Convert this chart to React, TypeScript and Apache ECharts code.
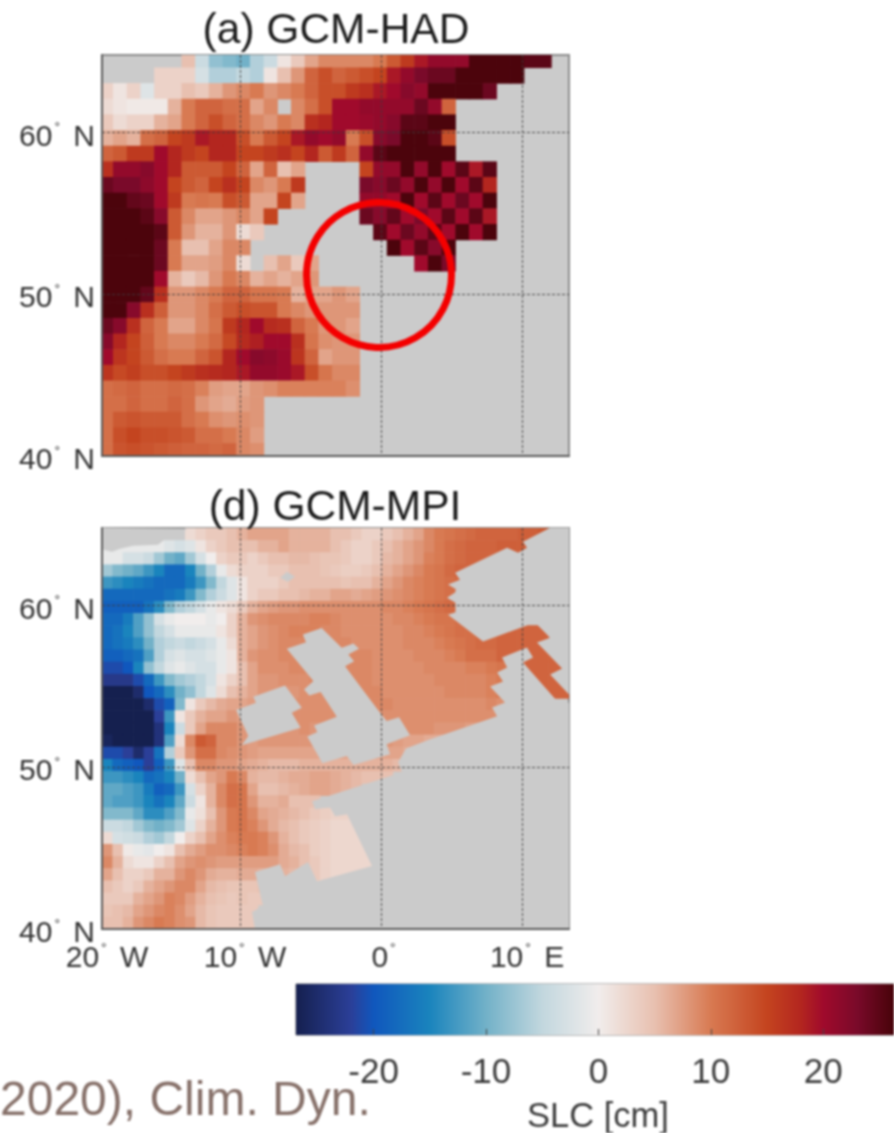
import React, { useEffect, useRef } from "react";
import * as echarts from "echarts";

const n = null;
const FONT = "Liberation Sans";

// colour scale (from the colour bar)
const scaleValues = [-26.9, -22, -20, -15, -10, -5, 0, 5, 10, 15, 18, 20, 23, 26.3];
const scaleColors = ["#15204f", "#2b3f98", "#1057bd", "#1a84bd", "#72b1c8", "#c2d7de", "#f1edec", "#e8c0b0", "#d87a52", "#c4441f", "#b3261f", "#a00a2c", "#7a0a2a", "#470309"];
const colorbarTicks = [-20, -10, 0, 10, 20];

// panel (a): rows north to south, columns west to east
const hadRows: (number | null)[][] = [
  [n,n,n,n,n,n,5,-4,-8,-9,-10,-6,-4,1,4,7,9,9,9,9,10,13,16,19,21,21,21,26,26,26,26,25,25],
  [n,n,n,n,3,3,3,-3,-6,-6,-5,-6,1,5,8,12,14,12,13,14,15,19,21,23,24,24,26,26,26,26,26],
  [3,1,3,-2,3,3,5,4,6,8,9,10,8,9,10,12,14,14,16,17,19,20,22,21,26,26,26,26,24],
  [2,1,0.5,0.5,0.5,6,10,12,12,11,11,7,9,n,9,11,14,20,20,21,21,21,21,24,21,12],
  [4,2,3,3,6,7,10,12,14,12,11,9,8,10,9,17,18,20,20,20.5,21,22,25,25,26,26],
  [6,7,6,11,12,15,16,19,18,18,14,10,13,15,19,21,20,21,10,14,22,23,26,26,25,14],
  [12,13,16,16,20,18,16,15,18,18,15,15,16,17,15,18,13,16,12,21,25,26,26,26,26,26],
  [17,21,21,22,20,18,13,13,13,15,12,7,12,5,7,n,n,n,n,15,21,21,26,21,26,20,25,19,25],
  [24,23,23,21.5,20,15,13,12,15,17,15,9,8,10,16,n,n,n,n,23,22,24,21,26,21,26,20,25,18],
  [26,26,24.5,24,20,16,10,10.5,10,14,13,7,7,15,7,n,n,n,n,21,21,20,26,20,25,20,24,20,26],
  [26,26,26,25,22,13,9,7,7,8,9,7,15,n,n,n,n,n,n,24,22,24.5,20,23,20,25,20,25,19],
  [26,26,26,26,25,13,8,6,6,8,2,4,n,n,n,n,n,n,n,n,25,20,24,21,25,20,26,20,26],
  [26,26,26,26,24,10,5,5,7,9,9,n,n,n,n,n,n,n,n,n,n,26,20,25,22,26],
  [26,26,26,26,24,10,7,7,7.5,9,2,n,5,7,4,7,n,n,n,n,n,n,n,20,26,23],
  [26,26,26,26,20,6,4,5.5,8,10,9,6,7,6,7,8],
  [26,26,26,24.5,17,8,8,9,10,12,12,10.5,10.5,10,6,7,7,8,7],
  [26,26,22,17,12.5,8,8,9,11,13,14,13.5,13.5,10,9,8,8,8,8],
  [24,22,17,12,10,7,7,9,10.5,16,18,20,17.5,17,12,10,8,8,7],
  [22,18,15,12.5,10,9,9,10,11.5,14.5,17.5,18.5,20,20,17,10.5,8.5,8,8],
  [20,16.5,15,13,11,10,10,12,13.5,18,20,22,21.5,20.5,16.5,12,7,8,8],
  [16.5,14.5,15.5,14,14,15,16,17,17.5,18,19,21,21,20.5,19,14,10.5,9,9],
  [11,11.5,12,11,11,11.5,11,9.5,7.5,7,7,8,8.5,9.5,9.5,9.5,9.5,9.5,8.5],
  [11,11,12,11,11,12,11,8,7,6.5,7.5,8],
  [11,13,13.5,13,13,13,11,10,8.5,8,8.5,8],
  [11,14,15,14,14,13.5,13,11,11,10,9,7.5],
  [11,13.5,14,13.5,13,12.5,12,12,11.5,12,9,8.5],
];

// panel (d): rows north to south, columns west to east
const mpiRows: (number | null)[][] = [
  [n,n,n,n,n,n,n,n,2,3,4,4,5,6,7,7,7,7,6,6,6,6,5,5,4,3,3,4,5,6,7,9,10,10.5,11,11.5,12,12,12,12,12.5,12.5,13,13],
  [-1,-1,-1,-1,-1,-1,-2,-3,-2,1,3,4,5,5,5,6,6,7,6,6,6,6,5,4,3,3,4,5,6,7,8,9,10,11,11.5,12,12,12,12.5,12.5,12.5,12],
  [-1,-1,-3,-3,-4,-7,-10,-11,-7,-3,0,3,4,4,3,4,5,5,5.5,5.5,5,4.5,4.5,4,3,3,4,5.5,6,7,8,9.5,10,11,11.5,12,12,12,12],
  [-7,-9,-10,-11,-13,-15,-18,-18,-15,-10,-6,-1,2,3,3,3,4,4,5,5,5,4.5,4,3.5,3.5,4,5,6,7,8,9,10,10.5,11.5,12,12],
  [-13,-14,-15,-16,-17,-18,-18,-18,-16,-13,-9,-5,-2,1,3,3,3,4,5,5,5,5,5,4.5,5,5,6,7,8,9,9.5,10,10.5,11,11.5],
  [-18,-18,-18,-18,-18,-18,-17,-16,-13,-9,-6,-4,-2,1,3,4,4,5,5,5.5,6,6,7,7,6.5,7,7.5,8,8.5,9,9.5,10,10.5,11],
  [-19,-19,-19,-19,-17,-14,-9,-6,-5,-3,-1,1,2,4,6,7,7.5,8,8,8.5,8.5,8.5,8.5,8.5,8.5,8.5,8.5,9,9,9.5,10,10.5,11,11.5],
  [-18,-18,-16,-12,-8,-3,-1,0,0,0,-1,0,3,6,8,8.5,9,9,9,9,9.5,9.5,9,8.5,8.5,8.5,8.5,8.5,9,9,9.5,10,10.5,10.5,11],
  [-18,-17,-15,-12,-8,-5,-3,-1,-1,-1,-1,1,3,6,7,8,8.5,9,9.5,9.5,9.5,9,9,8.5,8.5,8.5,8.5,8.5,8.5,9,9,9.5,10,10.5,11,11,11.5,11.5,12,12,12,12,12],
  [-18,-17,-16,-14,-10,-6,-5,-4,-5,-4,-3,-1,2,6,7,8,8.5,9,9,9,9.5,9,9,9,8.5,8.5,8.5,8.5,8.5,9,9,9,9.5,10,10.5,11,11.5,11.5,12,12,12,12,12,12],
  [-19,-19,-18,-17,-12,-6,-3,-2,-3,-3,-2,-1,1,6,8,8.5,8.5,9,9,9,9.5,9.5,9.5,9,9,9,8.5,8.5,8.5,8.5,9,9,9,9.5,10,11,11,11,12,12,12,12,12,12,12],
  [-21,-21,-20,-15,-8,-5,-2,-1,-2,-3,-3,-1,1,5,7,8.5,8.5,8.5,9,9,9,9,9,9,9,9,8.5,8.5,8.5,8.5,8.5,9,9,9,9,9.5,9.5,10,10.5,11,12,12,12,12,12],
  [-23,-23,-23,-21,-18,-13,-9,-7,-6,-5,-3,1,3,5,7,8,8,8.5,8.5,8.5,9,9,9,9,9,9,8.5,8.5,8.5,8.5,8.5,8.5,9,9,9,9,9,9.5,10,10,11,12,12,12,12],
  [-27,-27,-27,-25,-20,-18,-14,-10,-8,-5,-2,2,5,6,7,8,8,8,8,8.5,8.5,8.5,8.5,9,9,9,9,8.5,8.5,8.5,8.5,8.5,8.5,9,9,9,9,9.5,10,10,11,12,12,12,12],
  [-27,-27,-27,-27,-25,-21,-19,-9,1,4,5.5,6.5,7,7,7.5,8,8,8,8.5,8.5,8.5,8.5,8.5,8.5,9,9,9,9,8.5,8.5,8.5,8.5,8.5,8.5,8.5,8.5,8.5,9,8.5],
  [-27,-27,-27,-27,-27,-22,-13,1,4,6,7,7,8,7.5,8,8,8.5,8.5,8.5,8.5,8.5,8.5,8.5,8.5,8.5,8.5,8.5,8.5,8.5,8.5,8.5,8.5,8.5,8.5,8.5,8.5,8.5,8.5],
  [-27,-27,-27,-27,-27,-24,-15,-4,4,7,9,9,9,8,7.5,7.5,8,8,8,8.5,8,8.5,8.5,8.5,8.5,8.5,8.5,8.5,8.5,8.5,8.5,8.5,8,8,8,7.5,7.5],
  [-26,-27,-27,-27,-27,-24,-12,2,9,13,12,9,9,8,7.5,8,8,8,8,8,8,8,8,8,8,8,8,8,7.5,7,7,6.5,6.5],
  [-21,-21,-22,-25,-22,-17,-6,4,8,11,11,9,8.5,8,7.5,7,7,7,7,7,7,7,7,7,7,7,7,7,7,6.5,6.5,6],
  [-15,-18,-19,-20,-22,-19,-13,-2,5,9,9,8,8,7,6.5,6,5.5,5.5,5.5,6,6,6,6,6,6,6,6,6,5.5],
  [-13,-13,-14,-15,-18,-17,-15,-10,2,5,7,8,10,9,6,5.5,5.5,6,6.5,6.5,7,7,6.5,6,5.5,5,5,5],
  [-11,-11,-12,-13,-16,-19,-18,-13,-3,3,6,9,11,10.5,7,5,5,5.5,6,6.5,7,7,6.5,6,5.5],
  [-11,-12,-12,-13,-15,-17,-15,-11,-4,1,6,9,11,10.5,8,6,6,6.5,5,5,5],
  [-9,-9,-9,-11,-14,-14,-12,-9,-1,1.5,5,8,10,10.5,9,7,6.5,6,5.5,5,4,3.5,3,3],
  [-4,-4,-5,-7,-9,-10,-9,-7,-2,3,6,8,10,10.5,9.5,8,6.5,5.5,5,4,3.5,3,2.5,2.5,2.5],
  [2,-3,-3.5,-4,-6,-7,-5,0,3,5,7,8.5,9.5,10,10,9.5,8,6,5,4,3.5,3,2.5,2.5,2.5,2.5],
  [8,5,0.5,-1,-1.5,0,1,5,6.5,7.5,8.5,8.5,9,9.5,10,9.5,8.5,6.5,5.5,5,3.5,3,2.5,2.5,2.5,2.5],
  [9,6,2,1,1,3,5,7,8,8.5,8,7.5,7.5,7.5,7.5,7.5,7.5,6.5,6,5,4,3,2.5,2.5,2.5,2.5,2.5],
  [7,5,3,3,4,6,6,8,9,8,6.5,6,6,6.5,6.5,6,6,6,5.5,5,4,3,2.5,2.5,2.5,2.5],
  [5,4,3,4,6,7,8,9,9,7,5.5,5,4.5,4.5,4.5,5,5,5,5,4,3.5,3],
  [4,4,4,6,7,8,9.5,9,7.5,6,5,4.5,4,4.5,4,4],
  [4.5,5,5.5,7,8,9,9.5,8.5,7,5.5,4.5,4,4,4,4],
  [5,5,6,8,9,10,9.5,8.5,8,5.5,4.5,4,4,4,4],
];

// land masks of panel (d), [longitude, latitude]
const landNorthWest = [[-19.79,64.81],[-13.69,64.75],[-15.18,64.2],[-15.82,63.77],[-17.59,63.7],[-18.51,63.52],[-19.08,63.33],[-19.65,63.46],[-19.79,63.46]];
const landFaroe = [[-7.16,61.73],[-6.67,62.1],[-6.1,61.79],[-6.6,61.48]];
const landBritain = [[-4.21,58.62],[-5.55,58.21],[-5.32,57.73],[-6.69,57.33],[-4.8,55.33],[-5.46,54.81],[-5.09,54.44],[-4.28,54.65],[-3.14,53.13],[-4.75,52.59],[-4.52,52.18],[-5.23,51.9],[-4.16,50.25],[-2.43,50.7],[-1.96,50.14],[0.64,50.8],[0.4,51.42],[2.06,51.99],[1.28,53.1],[0.4,52.86],[-0.07,53.38],[-2.55,56.25],[-1.91,56.56],[-2.32,56.98],[-1.56,57.33],[-1.96,57.65],[-2.79,57.39]];
const landIreland = [[-6.81,55.06],[-9.06,54.36],[-8.87,53.99],[-10.28,53.54],[-9.41,51.93],[-9.88,51.36],[-5.7,52.45],[-6.33,53.38],[-5.62,53.69]];
const landEurope = [[13.33,54.01],[12.7,53.89],[10.07,56.48],[10.78,56.79],[10.35,57.41],[8.58,56.79],[8.94,56.17],[8.23,55.86],[8.65,55.31],[7.73,55.0],[8.79,54.01],[7.87,53.7],[8.23,53.15],[3.48,51.73],[1.77,51.17],[1.21,50.31],[1.49,49.69],[-4.89,47.9],[-4.68,47.41],[-3.62,47.53],[-3.26,46.98],[-2.41,47.1],[-0.64,43.89],[-4.54,42.96],[-5.18,44.14],[-6.81,43.27],[-7.16,44.01],[-8.94,43.52],[-8.37,41.42],[-9.15,41.05],[-8.94,40.0],[13.33,40.0]];
const landNorway = [[11.99,64.81],[10.07,63.95],[10.35,63.58],[9.72,63.27],[8.94,63.58],[5.25,62.04],[5.6,61.6],[4.75,61.3],[5.46,60.93],[4.68,60.49],[5.25,60.19],[5.82,59.75],[4.75,59.44],[7.23,57.78],[10.92,58.95],[11.99,58.02],[11.06,57.72],[12.84,56.11],[11.99,55.74],[13.33,54.51],[13.33,64.81]];
const landPolygons = [landNorthWest, landFaroe, landBritain, landIreland, landEurope, landNorway];

// axes
const lonMin = -19.79, lonMax = 13.33, latMin = 40, latMax = 64.8;
const lonLines = [-10, 0, 10];
const lonLabels = [lonMin, -10, 0, 10];
const latLines = [50, 60];
const latLabels = [40, 50, 60];

// cell lattices, degrees
const hadLonEdge = -19.01, hadLonStep = 0.971, hadLatEdge = 64.03, hadLatStep = 0.968;
const mpiLonStep = (lonMax - lonMin) / 45, mpiLatStep = (latMax - latMin) / 33;

const toRgb = (h: string) => [1, 3, 5].map((i) => parseInt(h.slice(i, i + 2), 16));
function colorOf(v: number) {
  if (v <= scaleValues[0]) return scaleColors[0];
  for (let i = 1; i < scaleValues.length; i++) {
    if (v <= scaleValues[i]) {
      const t = (v - scaleValues[i - 1]) / (scaleValues[i] - scaleValues[i - 1]);
      const a = toRgb(scaleColors[i - 1]), b = toRgb(scaleColors[i]);
      return `rgb(${a.map((c, k) => Math.round(c + (b[k] - c) * t)).join(",")})`;
    }
  }
  return scaleColors[scaleColors.length - 1];
}

function hadCells() {
  const out: number[][] = [];
  hadRows.forEach((row, r) =>
    row.forEach((v, c) => {
      if (v === null) return;
      const x0 = hadLonEdge + (c - 1) * hadLonStep, y1 = hadLatEdge - (r - 1) * hadLatStep;
      out.push([x0, y1 - hadLatStep, x0 + hadLonStep, y1, v]);
    })
  );
  return out;
}
function mpiCells() {
  const out: number[][] = [];
  mpiRows.forEach((row, r) =>
    row.forEach((v, c) => {
      if (v === null) return;
      const x0 = lonMin + c * mpiLonStep, y1 = latMax - r * mpiLatStep;
      out.push([x0, y1 - mpiLatStep, x0 + mpiLonStep, y1, v]);
    })
  );
  return out;
}

const renderCell = (p: any, api: any) => {
  const a = api.coord([api.value(0), api.value(3)]);
  const b = api.coord([api.value(2), api.value(1)]);
  const cs = p.coordSys;
  const rect = echarts.graphic.clipRectByRect(
    { x: a[0], y: a[1], width: b[0] - a[0] + 0.6, height: b[1] - a[1] + 0.6 },
    { x: cs.x, y: cs.y, width: cs.width, height: cs.height }
  );
  if (!rect) return null;
  return { type: "rect", shape: rect, style: { fill: colorOf(api.value(4)) } };
};
const renderLand = (_: any, api: any) => ({
  type: "polygon",
  shape: { points: landPolygons[api.value(0)].map((p) => api.coord(p)) },
  style: { fill: "#cbcbcb" },
});
const renderColorbar = (_: any, api: any) => {
  const a = api.coord([api.value(0), 1]);
  const b = api.coord([api.value(1), 0]);
  const lo = scaleValues[0], hi = scaleValues[scaleValues.length - 1];
  return {
    type: "rect",
    shape: { x: a[0], y: a[1], width: b[0] - a[0], height: b[1] - a[1] },
    style: {
      fill: new echarts.graphic.LinearGradient(0, 0, 1, 0,
        scaleValues.map((v, i) => ({ offset: (v - lo) / (hi - lo), color: scaleColors[i] }))),
    },
  };
};

const degRich = {
  a: { fontFamily: FONT, fontSize: 30, color: "#333" },
  b: { fontFamily: FONT, fontSize: 14, color: "#333", verticalAlign: "top", padding: [0, 5, 0, 2] },
};
const latLabel = (v: number) => `{a|${Math.round(v)}}{b|°}{a| N}`;
const lonLabel = (v: number) => {
  const r = Math.round(v);
  return r === 0 ? `{a|0}{b|°}` : `{a|${Math.abs(r)}}{b|°}{a| ${r < 0 ? "W" : "E"}}`;
};
const lineStyle = { color: "#3c3c3c", type: [3, 2], width: 1, opacity: 0.9 };

function lonAxis(gridIndex: number, labelled: boolean) {
  return {
    type: "value", gridIndex, min: lonMin, max: lonMax, z: 5,
    axisLine: { show: true, onZero: false, lineStyle: { color: "#5a5a5a", width: 2 } },
    axisTick: { show: false, customValues: lonLines },
    splitLine: { show: true, lineStyle },
    axisLabel: { show: labelled, customValues: lonLabels, formatter: lonLabel, rich: degRich, margin: 12, padding: [0, 0, 0, 10] },
  };
}
function latAxis(gridIndex: number) {
  return {
    type: "value", gridIndex, min: latMin, max: latMax, z: 5,
    axisLine: { show: true, onZero: false, lineStyle: { color: "#5a5a5a", width: 2 } },
    axisTick: { show: false, customValues: latLines },
    splitLine: { show: true, lineStyle },
    axisLabel: { show: true, customValues: latLabels, formatter: latLabel, rich: degRich, margin: 7, padding: [5, 0, 0, 0] },
  };
}

export default function App() {
  const ref = useRef<HTMLDivElement>(null);
  useEffect(() => {
    document.body.style.margin = "0";
    const chart = echarts.init(ref.current!, null, { renderer: "svg" });
    const frame = { show: true, borderColor: "#8c8c8c", borderWidth: 2, backgroundColor: "#cbcbcb" };
    const titleStyle = { fontFamily: FONT, fontSize: 42.5, fontWeight: "normal", color: "#1c1c1c" };
    chart.setOption({
      animation: false,
      textStyle: { fontFamily: FONT },
      title: [
        { text: "(a) GCM-HAD", left: 331, top: 2, textAlign: "center", textStyle: titleStyle },
        { text: "(d) GCM-MPI", left: 330, top: 479, textAlign: "center", textStyle: titleStyle },
      ],
      grid: [
        { left: 102, top: 55, width: 467, height: 401, ...frame },
        { left: 102, top: 528, width: 467, height: 401, ...frame },
        { left: 296, top: 984, width: 598, height: 53, show: true, borderColor: "#777", borderWidth: 1 },
      ],
      xAxis: [
        lonAxis(0, false),
        lonAxis(1, true),
        {
          type: "value", gridIndex: 2, min: scaleValues[0], max: scaleValues[scaleValues.length - 1], z: 5,
          axisLine: { show: false },
          axisTick: { show: true, inside: true, length: 6, customValues: colorbarTicks, lineStyle: { color: "#444" } },
          splitLine: { show: false },
          axisLabel: { customValues: colorbarTicks, fontFamily: FONT, fontSize: 35, color: "#3c3c3c", margin: 18 },
          name: "SLC [cm]", nameLocation: "middle", nameGap: 62,
          nameTextStyle: { fontFamily: FONT, fontSize: 34.5, color: "#3c3c3c", padding: [0, 0, 0, 6] },
        },
      ],
      yAxis: [
        latAxis(0),
        latAxis(1),
        { type: "value", gridIndex: 2, min: 0, max: 1, show: false },
      ],
      series: [
        { type: "custom", xAxisIndex: 0, yAxisIndex: 0, silent: true, renderItem: renderCell, data: hadCells(), encode: { x: [0, 2], y: [1, 3] } },
        { type: "custom", xAxisIndex: 1, yAxisIndex: 1, silent: true, renderItem: renderCell, data: mpiCells(), encode: { x: [0, 2], y: [1, 3] } },
        { type: "custom", xAxisIndex: 1, yAxisIndex: 1, silent: true, z: 3, renderItem: renderLand, data: landPolygons.map((_, i) => [i]), encode: { x: 0 } },
        { type: "custom", xAxisIndex: 2, yAxisIndex: 2, silent: true, renderItem: renderColorbar, data: [[scaleValues[0], scaleValues[scaleValues.length - 1]]], encode: { x: [0, 1] } },
      ],
      graphic: [
        { type: "circle", z: 100, silent: true, shape: { cx: 379, cy: 275, r: 72.5 }, style: { fill: "none", stroke: "#f40000", lineWidth: 7 } },
        { type: "text", z: 100, silent: true, x: 0, y: 1074, style: { text: "2020), Clim. Dyn.", fontFamily: FONT, fontSize: 48, fill: "#87716a" } },
      ],
    });
    return () => chart.dispose();
  }, []);
  return <div ref={ref} style={{ position: "absolute", left: 0, top: 0, width: 894, height: 1133, filter: "blur(0.8px)" }} />;
}
